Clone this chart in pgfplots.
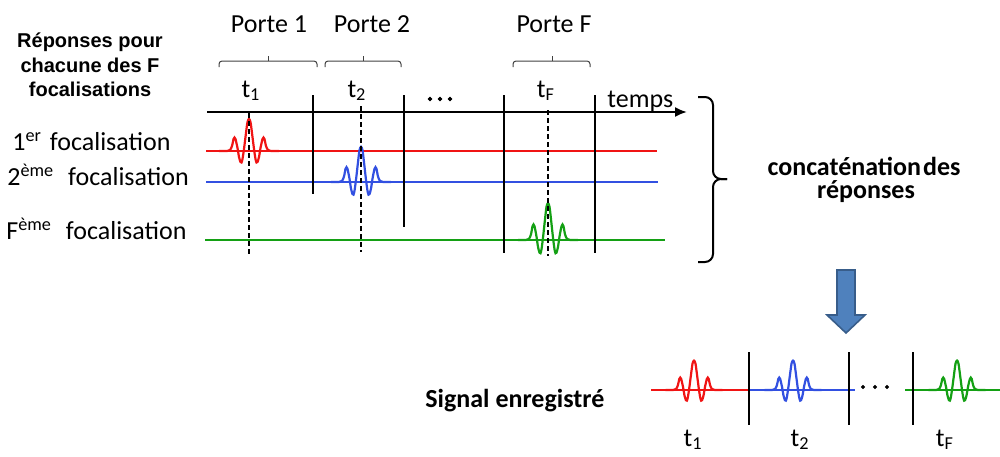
\documentclass[border=0pt]{standalone}
\usepackage{fontspec}
\setmainfont{Carlito}
\newfontfamily\arialfont{Liberation Sans}
\usepackage{pgfplots}
\pgfplotsset{compat=1.18}
\usepackage{pgfplotstable}
\usetikzlibrary{arrows.meta}
\definecolor{wred}{RGB}{240,20,20}
\definecolor{wblue}{RGB}{50,80,225}
\definecolor{wgreen}{RGB}{20,160,20}
\definecolor{arrfill}{RGB}{79,129,189}
\definecolor{arrdraw}{RGB}{56,93,138}

% one wavelet: offsets in pixels from its centre (dy up is positive)
\pgfplotstableread{
dx dy
-30 0
-22 0
-19 1
-17 5
-15.5 12
-14.5 13.5
-13.5 12
-11.5 3
-10 -6
-8.5 -11
-7.5 -11.5
-6.5 -8
-5 2
-3 18
-1.5 29
0 32
1.5 29
3 18
5 2
6.5 -8
7.5 -11.5
8.5 -11
10 -6
11.5 3
13.5 12
14.5 13.5
15.5 12
17 5
19 1
22 0
30 0
}\wavelet

\begin{document}
\begin{tikzpicture}
\begin{axis}[width=500pt,height=228pt,scale only axis,
  xmin=0,xmax=1000,ymin=0,ymax=456,y dir=reverse,
  hide axis,clip=false]
\coordinate (BL) at (axis cs:0,456);
\coordinate (TR) at (axis cs:1000,0);

% ---- top panel: responses
\addplot[wred, line width=1.1pt] coordinates {(206,151)(657,151)};
\addplot[wred, line width=1.1pt, smooth] table[x expr=\thisrow{dx}+249, y expr=151-\thisrow{dy}] {\wavelet};
\addplot[wblue, line width=1.1pt] coordinates {(206,182)(658,182)};
\addplot[wblue, line width=1.1pt, smooth] table[x expr=\thisrow{dx}+361, y expr=182-1.1*\thisrow{dy}] {\wavelet};
\addplot[wgreen, line width=1.1pt] coordinates {(205,240)(665,240)};
\addplot[wgreen, line width=1.1pt, smooth] table[x expr=\thisrow{dx}+548, y expr=240-1.15*\thisrow{dy}] {\wavelet};

% time axis
\addplot[black, line width=1pt, -{Latex[length=6pt,width=5pt]}] coordinates {(207,112)(687,112)};
% gate separators
\addplot[black, line width=0.8pt] coordinates {(313,95)(313,194)};
\addplot[black, line width=0.8pt] coordinates {(404,95)(404,227)};
\addplot[black, line width=0.8pt] coordinates {(504,95)(504,253)};
\addplot[black, line width=0.8pt] coordinates {(595,95)(595,253)};
% dashed t lines
\addplot[black, line width=0.7pt, dash pattern=on 2.5pt off 1.5pt] coordinates {(249,113)(249,254)};
\addplot[black, line width=0.7pt, dash pattern=on 2.5pt off 1.5pt] coordinates {(361,106)(361,252)};
\addplot[black, line width=0.7pt, dash pattern=on 2.5pt off 1.5pt] coordinates {(548,110)(548,256)};
% dots
\addplot[only marks, mark=*, mark size=0.9pt, black] coordinates {(430,99)(440,99)(450,99)};

% gate brackets
\draw[line width=0.5pt, black!75, rounded corners=1.5pt] (axis cs:219,67) -- (axis cs:219,61) -- (axis cs:317,61) -- (axis cs:317,67);
\draw[line width=0.5pt, black!75] (axis cs:268,61) -- (axis cs:268,56);
\draw[line width=0.5pt, black!75, rounded corners=1.5pt] (axis cs:325,67) -- (axis cs:325,61) -- (axis cs:401,61) -- (axis cs:401,67);
\draw[line width=0.5pt, black!75] (axis cs:363,61) -- (axis cs:363,56);
\draw[line width=0.5pt, black!75, rounded corners=1.5pt] (axis cs:513,67) -- (axis cs:513,61) -- (axis cs:590,61) -- (axis cs:590,67);
\draw[line width=0.5pt, black!75] (axis cs:552,61) -- (axis cs:552,56);

% right brace
\draw[line width=1pt, rounded corners=4pt] (axis cs:698,97) -- (axis cs:713,97) -- (axis cs:713,179) -- (axis cs:727,179);
\draw[line width=1pt, rounded corners=4pt] (axis cs:727,179) -- (axis cs:713,179) -- (axis cs:713,262) -- (axis cs:698,262);

% blue arrow
\addplot[fill=arrfill, draw=arrdraw, line width=0.8pt] coordinates {(837,270)(855,270)(855,315)(865,315)(846,333)(827,315)(837,315)} -- cycle;

% ---- bottom: recorded signal
\addplot[wred, line width=1.1pt] coordinates {(651,390)(750,390)};
\addplot[wred, line width=1.1pt, smooth] table[x expr=0.95*\thisrow{dx}+694, y expr=390-0.92*\thisrow{dy}] {\wavelet};
\addplot[wblue, line width=1.1pt] coordinates {(750,390)(855,390)};
\addplot[wblue, line width=1.1pt, smooth] table[x expr=0.95*\thisrow{dx}+793, y expr=390-0.92*\thisrow{dy}] {\wavelet};
\addplot[wgreen, line width=1.1pt] coordinates {(905,390)(1000,390)};
\addplot[wgreen, line width=1.1pt, smooth] table[x expr=0.95*\thisrow{dx}+957, y expr=390-0.92*\thisrow{dy}] {\wavelet};
\addplot[black, line width=0.8pt] coordinates {(749,352)(749,425)};
\addplot[black, line width=0.8pt] coordinates {(849,352)(849,425)};
\addplot[black, line width=0.8pt] coordinates {(913,352)(913,425)};
\addplot[only marks, mark=*, mark size=0.8pt, black] coordinates {(863,387)(875,387)(887,387)};

% ---- texts
\tikzset{lbl/.style={font=\fontsize{13}{15}\selectfont, inner sep=0pt}}
\node[lbl, anchor=base] at (axis cs:269,32) {Porte 1};
\node[lbl, anchor=base] at (axis cs:372,32) {Porte 2};
\node[lbl, anchor=base] at (axis cs:554,32) {Porte F};
\node[lbl, anchor=base] at (axis cs:251,97) {t\textsubscript{1}};
\node[lbl, anchor=base] at (axis cs:357,97) {t\textsubscript{2}};
\node[lbl, anchor=base] at (axis cs:546,97) {t\textsubscript{F}};
\node[lbl, anchor=base west] at (axis cs:607,107) {temps};
\node[lbl, anchor=base west] at (axis cs:12,150) {1\textsuperscript{er}\hspace{4pt}focalisation};
\node[lbl, anchor=base west] at (axis cs:7,185) {2\textsuperscript{ème}\hspace{7pt}focalisation};
\node[lbl, anchor=base west] at (axis cs:6,239) {F\textsuperscript{ème}\hspace{7pt}focalisation};
\node[lbl, anchor=base, font=\bfseries\fontsize{13}{15}\selectfont] at (axis cs:864,175) {concaténation\hspace{1pt}des};
\node[lbl, anchor=base, font=\bfseries\fontsize{13}{15}\selectfont] at (axis cs:866,198) {réponses};
\node[lbl, anchor=base west, font=\bfseries\fontsize{13}{15}\selectfont] at (axis cs:425,407) {Signal enregistré};
\node[lbl, anchor=base] at (axis cs:693,446) {t\textsubscript{1}};
\node[lbl, anchor=base] at (axis cs:800,446) {t\textsubscript{2}};
\node[lbl, anchor=base] at (axis cs:945,446) {t\textsubscript{F}};
\tikzset{ttl/.style={font=\arialfont\bfseries\fontsize{10}{12}\selectfont, inner sep=0pt, anchor=base}}
\node[ttl] at (axis cs:90,47) {Réponses pour};
\node[ttl] at (axis cs:90,72) {chacune des F};
\node[ttl] at (axis cs:90,96) {focalisations};
\end{axis}
\pgfresetboundingbox
\path[use as bounding box] (BL) rectangle (TR);
\end{tikzpicture}
\end{document}
